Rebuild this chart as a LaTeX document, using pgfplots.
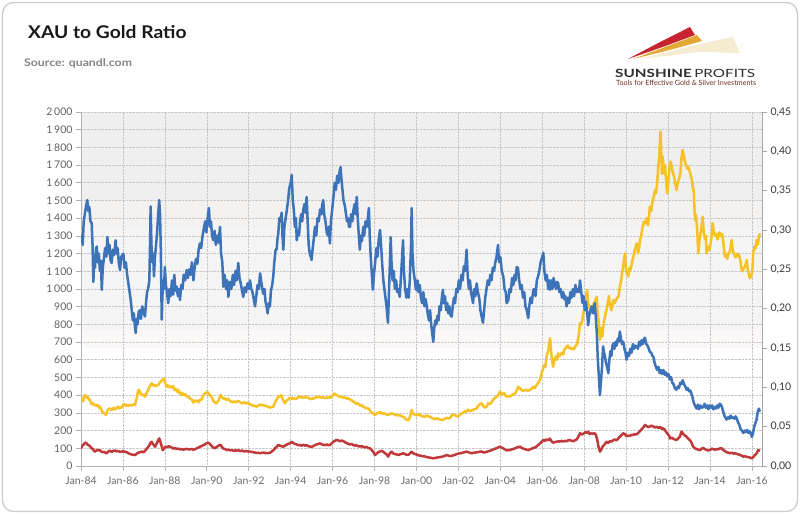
\documentclass[border=0pt]{standalone}
\usepackage{pgfplots}
\pgfplotsset{compat=1.18}
\usepackage{pgfplotstable}
\usepackage{fontspec}
\setmainfont{Lato}
\definecolor{cblue}{RGB}{61,115,185}
\definecolor{cgold}{RGB}{247,194,38}
\definecolor{cred}{RGB}{192,57,59}
\definecolor{frame}{RGB}{205,205,205}
\definecolor{band1}{RGB}{239,239,239}
\definecolor{band2}{RGB}{244,241,241}
\definecolor{band3}{RGB}{245,245,245}
\definecolor{band4}{RGB}{252,248,247}
\definecolor{logocream}{RGB}{245,236,210}
\definecolor{logoorange}{RGB}{228,168,52}
\definecolor{logored}{RGB}{200,36,48}
\definecolor{logobrown}{RGB}{110,45,35}

\pgfplotstableread{
x y
1984.00 370
1984.05 380
1984.10 365
1984.15 395
1984.20 401
1984.26 385
1984.32 390
1984.38 375
1984.43 373
1984.50 350
1984.56 355
1984.62 345
1984.67 345
1984.73 340
1984.80 345
1984.86 330
1984.90 335
1984.96 320
1985.02 305
1985.08 300
1985.14 295
1985.19 288
1985.25 310
1985.30 320
1985.38 326
1985.44 315
1985.50 320
1985.57 330
1985.63 320
1985.70 326
1985.76 335
1985.82 325
1985.88 330
1985.94 331
1986.00 345
1986.06 350
1986.12 340
1986.18 345
1986.25 340
1986.32 345
1986.40 342
1986.48 348
1986.58 345
1986.65 380
1986.70 410
1986.74 430
1986.78 429
1986.84 410
1986.90 400
1986.96 405
1987.05 392
1987.12 410
1987.20 430
1987.28 450
1987.33 460
1987.37 467
1987.42 455
1987.48 460
1987.55 450
1987.62 455
1987.69 458
1987.75 470
1987.82 480
1987.90 485
1987.96 495
1988.02 470
1988.09 448
1988.15 455
1988.22 445
1988.30 450
1988.36 440
1988.40 452
1988.46 430
1988.52 435
1988.58 420
1988.64 430
1988.70 410
1988.76 415
1988.80 401
1988.86 410
1988.92 400
1988.98 405
1989.04 392
1989.10 395
1989.16 385
1989.22 380
1989.29 375
1989.36 358
1989.42 370
1989.48 365
1989.55 370
1989.61 360
1989.67 373
1989.74 375
1989.80 390
1989.86 405
1989.92 410
1989.98 415
1990.02 420
1990.08 410
1990.14 400
1990.20 395
1990.23 392
1990.30 370
1990.37 360
1990.44 354
1990.50 360
1990.56 370
1990.61 385
1990.66 401
1990.72 390
1990.78 380
1990.84 385
1990.90 375
1990.95 373
1991.02 380
1991.08 370
1991.15 365
1991.22 360
1991.30 365
1991.36 360
1991.42 363
1991.50 368
1991.56 362
1991.62 358
1991.70 355
1991.78 360
1991.84 356
1991.90 354
1991.96 358
1992.04 350
1992.10 345
1992.18 342
1992.25 340
1992.32 338
1992.38 335
1992.44 340
1992.50 344
1992.56 348
1992.62 342
1992.69 345
1992.76 340
1992.84 338
1992.92 335
1993.00 330
1993.08 332
1993.17 335
1993.24 355
1993.30 370
1993.36 380
1993.42 395
1993.49 392
1993.55 400
1993.60 385
1993.66 365
1993.73 354
1993.80 370
1993.87 375
1993.93 382
1994.00 385
1994.06 380
1994.12 385
1994.20 378
1994.28 382
1994.36 388
1994.44 392
1994.52 385
1994.60 390
1994.68 386
1994.76 392
1994.84 385
1994.92 380
1995.00 378
1995.08 382
1995.16 384
1995.24 392
1995.32 388
1995.40 390
1995.48 386
1995.56 388
1995.64 384
1995.72 385
1995.80 388
1995.88 386
1995.96 392
1996.02 401
1996.08 410
1996.14 405
1996.20 400
1996.28 395
1996.36 390
1996.44 392
1996.52 385
1996.60 388
1996.68 380
1996.76 382
1996.83 375
1996.90 372
1996.97 365
1997.05 360
1997.12 350
1997.20 355
1997.28 345
1997.34 340
1997.40 345
1997.46 335
1997.52 332
1997.58 328
1997.62 326
1997.70 325
1997.76 318
1997.82 305
1997.88 300
1997.94 295
1998.02 288
1998.08 295
1998.14 300
1998.20 298
1998.26 305
1998.32 300
1998.38 295
1998.42 298
1998.50 295
1998.58 290
1998.64 288
1998.70 295
1998.76 293
1998.82 298
1998.88 295
1998.96 290
1999.05 288
1999.12 285
1999.20 288
1999.28 282
1999.36 278
1999.44 272
1999.52 262
1999.58 258
1999.64 262
1999.70 280
1999.74 305
1999.77 316
1999.82 300
1999.88 292
1999.94 290
2000.00 288
2000.06 286
2000.12 295
2000.17 288
2000.24 282
2000.32 280
2000.40 278
2000.48 286
2000.56 280
2000.64 279
2000.72 272
2000.80 268
2000.88 265
2000.96 270
2001.04 266
2001.12 263
2001.20 260
2001.28 262
2001.36 268
2001.44 272
2001.52 268
2001.60 272
2001.68 285
2001.76 290
2001.83 288
2001.90 280
2001.96 282
2002.04 285
2002.12 295
2002.20 300
2002.28 305
2002.34 312
2002.39 307
2002.46 318
2002.54 310
2002.62 312
2002.70 318
2002.78 320
2002.86 325
2002.94 340
2003.03 350
2003.10 355
2003.18 340
2003.26 330
2003.34 335
2003.42 355
2003.50 350
2003.58 360
2003.66 375
2003.74 385
2003.82 390
2003.90 400
2003.98 420
2004.04 410
2004.10 405
2004.18 412
2004.26 395
2004.30 392
2004.38 395
2004.46 392
2004.54 400
2004.62 405
2004.70 410
2004.78 425
2004.85 448
2004.90 440
2004.94 440
2005.02 428
2005.10 425
2005.17 429
2005.24 430
2005.30 425
2005.38 428
2005.46 435
2005.52 438
2005.57 448
2005.64 440
2005.72 455
2005.80 470
2005.89 486
2005.97 525
2006.04 550
2006.10 570
2006.15 560
2006.20 618
2006.28 650
2006.34 690
2006.37 721
2006.42 650
2006.46 600
2006.52 561
2006.58 600
2006.64 620
2006.70 600
2006.76 637
2006.82 620
2006.88 630
2006.94 640
2007.00 630
2007.06 660
2007.12 665
2007.16 674
2007.22 680
2007.28 665
2007.34 670
2007.40 660
2007.46 665
2007.52 660
2007.56 674
2007.62 680
2007.68 700
2007.74 740
2007.80 806
2007.86 800
2007.92 830
2007.98 880
2008.03 900
2008.08 950
2008.14 994
2008.19 920
2008.24 900
2008.30 880
2008.35 900
2008.40 880
2008.46 920
2008.52 930
2008.59 956
2008.64 860
2008.69 820
2008.75 712
2008.80 780
2008.86 730
2008.92 800
2008.99 844
2009.06 880
2009.12 920
2009.18 960
2009.24 900
2009.30 880
2009.39 938
2009.46 920
2009.52 940
2009.58 950
2009.64 960
2009.70 1013
2009.76 1050
2009.82 1100
2009.88 1150
2009.94 1201
2010.00 1100
2010.06 1080
2010.10 1070
2010.16 1120
2010.22 1110
2010.28 1154
2010.34 1180
2010.40 1220
2010.46 1240
2010.50 1258
2010.56 1200
2010.62 1230
2010.66 1277
2010.72 1300
2010.78 1350
2010.84 1380
2010.90 1370
2010.98 1400
2011.04 1360
2011.10 1420
2011.13 1465
2011.20 1440
2011.26 1500
2011.32 1520
2011.37 1559
2011.42 1540
2011.48 1600
2011.53 1691
2011.58 1750
2011.62 1850
2011.64 1889
2011.67 1800
2011.70 1650
2011.74 1750
2011.78 1700
2011.80 1654
2011.85 1700
2011.90 1620
2011.96 1541
2012.02 1620
2012.08 1700
2012.12 1720
2012.17 1691
2012.22 1660
2012.28 1640
2012.34 1600
2012.40 1559
2012.46 1600
2012.52 1620
2012.58 1650
2012.64 1740
2012.69 1785
2012.74 1760
2012.80 1720
2012.86 1700
2012.92 1680
2012.96 1691
2013.02 1670
2013.08 1640
2013.13 1620
2013.17 1578
2013.22 1560
2013.26 1450
2013.28 1390
2013.33 1420
2013.38 1350
2013.44 1201
2013.50 1280
2013.56 1320
2013.62 1380
2013.65 1408
2013.70 1320
2013.76 1280
2013.80 1300
2013.84 1201
2013.90 1240
2013.96 1220
2014.02 1250
2014.08 1300
2014.12 1371
2014.18 1330
2014.24 1300
2014.30 1310
2014.36 1280
2014.39 1295
2014.45 1320
2014.52 1300
2014.58 1310
2014.64 1260
2014.71 1183
2014.76 1200
2014.82 1170
2014.88 1200
2014.94 1210
2015.00 1250
2015.03 1277
2015.08 1220
2015.14 1200
2015.20 1180
2015.27 1183
2015.32 1200
2015.38 1190
2015.44 1170
2015.51 1107
2015.56 1100
2015.62 1120
2015.68 1130
2015.75 1164
2015.80 1110
2015.86 1080
2015.90 1060
2015.96 1070
2016.02 1100
2016.06 1201
2016.12 1240
2016.17 1230
2016.22 1277
2016.28 1250
2016.33 1290
2016.38 1315
}\goldtable

\pgfplotstableread{
x y
1984.00 100
1984.06 115
1984.12 120
1984.18 130
1984.24 132
1984.30 122
1984.36 118
1984.42 112
1984.51 100
1984.57 95
1984.62 85
1984.67 81
1984.74 88
1984.80 92
1984.86 86
1984.90 90
1984.96 82
1985.04 78
1985.10 80
1985.16 75
1985.22 72
1985.30 82
1985.38 86
1985.46 80
1985.54 85
1985.62 88
1985.70 82
1985.78 85
1985.86 80
1985.94 81
1986.02 84
1986.10 80
1986.18 78
1986.26 72
1986.34 68
1986.42 65
1986.50 63
1986.58 62
1986.66 70
1986.74 75
1986.82 78
1986.90 81
1986.98 78
1987.05 85
1987.12 95
1987.21 109
1987.27 120
1987.32 132
1987.37 137
1987.42 125
1987.48 118
1987.53 109
1987.60 125
1987.66 140
1987.73 156
1987.78 140
1987.84 115
1987.90 90
1987.96 100
1988.04 110
1988.10 105
1988.18 112
1988.24 109
1988.32 105
1988.40 98
1988.48 102
1988.56 96
1988.64 98
1988.72 94
1988.80 96
1988.88 92
1988.96 95
1989.04 97
1989.12 94
1989.20 94
1989.28 96
1989.36 92
1989.44 95
1989.52 100
1989.60 104
1989.67 109
1989.75 112
1989.83 118
1989.91 122
1989.98 128
1990.07 132
1990.14 125
1990.22 115
1990.30 105
1990.39 100
1990.46 108
1990.54 112
1990.60 118
1990.66 119
1990.72 108
1990.80 98
1990.88 95
1990.95 90
1991.04 92
1991.12 88
1991.20 90
1991.28 86
1991.36 88
1991.42 86
1991.50 90
1991.58 84
1991.66 88
1991.74 84
1991.82 82
1991.90 84
1992.00 82
1992.06 81
1992.14 80
1992.22 78
1992.30 76
1992.38 74
1992.46 75
1992.54 72
1992.62 74
1992.70 76
1992.78 74
1992.86 72
1992.94 73
1993.01 75
1993.10 82
1993.18 90
1993.26 100
1993.34 110
1993.41 119
1993.48 115
1993.56 112
1993.65 109
1993.72 115
1993.80 120
1993.88 125
1993.97 128
1994.05 137
1994.12 130
1994.20 125
1994.28 122
1994.36 118
1994.44 119
1994.52 115
1994.60 120
1994.68 115
1994.76 118
1994.84 112
1994.92 110
1995.00 109
1995.08 112
1995.16 118
1995.24 122
1995.32 125
1995.40 128
1995.48 122
1995.56 120
1995.64 118
1995.72 122
1995.80 118
1995.87 119
1995.94 125
1996.02 135
1996.10 142
1996.19 147
1996.26 145
1996.34 140
1996.42 143
1996.51 141
1996.58 135
1996.66 130
1996.74 126
1996.82 122
1996.90 124
1996.99 119
1997.06 115
1997.14 118
1997.22 112
1997.30 110
1997.38 112
1997.46 109
1997.54 105
1997.62 108
1997.70 102
1997.78 100
1997.86 90
1997.94 80
1998.02 62
1998.10 70
1998.18 78
1998.26 82
1998.34 86
1998.42 80
1998.50 72
1998.58 65
1998.65 53
1998.72 70
1998.81 81
1998.88 72
1998.96 68
1999.05 66
1999.13 62
1999.20 65
1999.28 68
1999.37 72
1999.44 68
1999.52 64
1999.60 62
1999.68 70
1999.74 78
1999.77 81
1999.84 72
1999.92 68
2000.00 65
2000.10 60
2000.20 58
2000.30 55
2000.40 54
2000.50 50
2000.60 48
2000.70 46
2000.80 43
2000.90 46
2001.00 48
2001.10 50
2001.20 52
2001.30 55
2001.44 62
2001.54 58
2001.62 56
2001.70 58
2001.80 62
2001.90 66
2002.00 70
2002.10 72
2002.20 75
2002.30 78
2002.39 81
2002.48 78
2002.56 74
2002.64 72
2002.72 75
2002.80 76
2002.90 78
2003.03 81
2003.12 82
2003.20 76
2003.30 78
2003.40 82
2003.50 86
2003.60 90
2003.70 96
2003.80 100
2003.90 105
2003.98 109
2004.06 104
2004.14 100
2004.22 94
2004.30 88
2004.38 90
2004.46 90
2004.54 94
2004.62 96
2004.70 100
2004.78 104
2004.86 108
2004.94 109
2005.02 102
2005.10 98
2005.18 95
2005.26 92
2005.33 90
2005.42 94
2005.50 98
2005.58 102
2005.66 105
2005.74 112
2005.82 120
2005.90 128
2006.00 140
2006.05 147
2006.12 142
2006.20 150
2006.28 145
2006.36 155
2006.44 140
2006.52 132
2006.60 135
2006.68 137
2006.76 140
2006.84 138
2006.92 142
2007.00 138
2007.08 142
2007.16 140
2007.24 145
2007.32 147
2007.40 142
2007.48 140
2007.56 145
2007.64 150
2007.72 165
2007.80 185
2007.88 178
2007.96 182
2008.04 190
2008.12 188
2008.19 194
2008.26 180
2008.34 185
2008.42 182
2008.50 185
2008.56 175
2008.62 150
2008.68 110
2008.75 81
2008.80 90
2008.88 110
2008.96 120
2009.07 137
2009.14 130
2009.22 140
2009.30 138
2009.38 145
2009.46 150
2009.54 145
2009.62 155
2009.70 165
2009.78 175
2009.86 185
2009.94 180
2010.02 168
2010.10 172
2010.18 170
2010.26 176
2010.33 175
2010.40 180
2010.48 178
2010.56 185
2010.64 195
2010.72 205
2010.80 215
2010.90 232
2010.98 225
2011.06 220
2011.14 224
2011.22 228
2011.30 222
2011.38 218
2011.46 222
2011.54 215
2011.62 220
2011.70 210
2011.77 213
2011.84 205
2011.92 190
2012.00 180
2012.05 170
2012.09 156
2012.16 160
2012.24 155
2012.32 150
2012.40 147
2012.48 155
2012.56 165
2012.64 194
2012.70 185
2012.76 175
2012.84 170
2012.92 160
2013.00 150
2013.08 140
2013.14 125
2013.20 109
2013.28 100
2013.36 96
2013.44 92
2013.52 90
2013.60 98
2013.68 102
2013.76 95
2013.84 90
2013.92 88
2014.00 90
2014.08 98
2014.16 95
2014.24 92
2014.32 96
2014.40 94
2014.48 100
2014.55 100
2014.62 92
2014.70 85
2014.78 78
2014.86 76
2014.95 72
2015.04 75
2015.12 70
2015.20 72
2015.28 68
2015.36 65
2015.44 62
2015.52 58
2015.58 53
2015.66 55
2015.74 52
2015.82 50
2015.90 48
2015.98 43
2016.06 50
2016.12 60
2016.18 65
2016.24 75
2016.30 90
2016.38 85
}\xautable

\pgfplotstableread{
x y
1984.00 0.284
1984.04 0.293
1984.08 0.281
1984.13 0.311
1984.18 0.320
1984.24 0.330
1984.30 0.338
1984.35 0.324
1984.40 0.329
1984.45 0.311
1984.51 0.309
1984.55 0.281
1984.59 0.234
1984.63 0.266
1984.67 0.252
1984.71 0.275
1984.75 0.279
1984.80 0.259
1984.85 0.270
1984.90 0.248
1984.95 0.261
1984.99 0.224
1985.04 0.252
1985.10 0.266
1985.15 0.277
1985.21 0.266
1985.26 0.291
1985.31 0.270
1985.36 0.281
1985.41 0.261
1985.46 0.258
1985.52 0.275
1985.58 0.268
1985.65 0.287
1985.70 0.270
1985.75 0.277
1985.80 0.259
1985.86 0.249
1985.92 0.266
1986.02 0.270
1986.08 0.252
1986.14 0.259
1986.20 0.243
1986.26 0.232
1986.32 0.221
1986.38 0.209
1986.42 0.198
1986.47 0.185
1986.52 0.194
1986.57 0.178
1986.61 0.169
1986.65 0.187
1986.70 0.180
1986.75 0.196
1986.81 0.198
1986.86 0.187
1986.92 0.203
1986.98 0.196
1987.05 0.190
1987.10 0.207
1987.15 0.221
1987.20 0.225
1987.26 0.236
1987.30 0.293
1987.32 0.330
1987.36 0.281
1987.40 0.259
1987.44 0.270
1987.48 0.241
1987.53 0.266
1987.58 0.281
1987.63 0.297
1987.68 0.320
1987.73 0.338
1987.77 0.320
1987.81 0.270
1987.85 0.186
1987.88 0.214
1987.92 0.236
1987.96 0.225
1988.00 0.253
1988.05 0.230
1988.10 0.221
1988.16 0.207
1988.22 0.225
1988.28 0.216
1988.34 0.236
1988.40 0.218
1988.45 0.243
1988.50 0.223
1988.56 0.228
1988.62 0.216
1988.67 0.225
1988.72 0.211
1988.78 0.230
1988.84 0.225
1988.90 0.243
1988.97 0.236
1989.04 0.249
1989.10 0.239
1989.16 0.250
1989.22 0.243
1989.29 0.259
1989.36 0.236
1989.42 0.252
1989.48 0.263
1989.55 0.257
1989.61 0.275
1989.67 0.283
1989.73 0.277
1989.80 0.293
1989.86 0.302
1989.92 0.311
1989.98 0.297
1990.04 0.315
1990.10 0.328
1990.15 0.304
1990.20 0.311
1990.25 0.293
1990.31 0.287
1990.37 0.299
1990.43 0.281
1990.50 0.293
1990.56 0.284
1990.63 0.304
1990.68 0.270
1990.74 0.259
1990.79 0.228
1990.85 0.243
1990.92 0.225
1990.97 0.236
1991.03 0.215
1991.10 0.234
1991.17 0.225
1991.24 0.243
1991.30 0.230
1991.37 0.248
1991.43 0.236
1991.50 0.258
1991.56 0.239
1991.62 0.232
1991.68 0.223
1991.74 0.215
1991.80 0.227
1991.87 0.221
1991.94 0.232
1992.00 0.225
1992.06 0.236
1992.12 0.225
1992.18 0.221
1992.24 0.212
1992.30 0.203
1992.36 0.216
1992.42 0.230
1992.48 0.225
1992.54 0.245
1992.60 0.234
1992.65 0.225
1992.69 0.219
1992.75 0.225
1992.80 0.209
1992.85 0.203
1992.90 0.194
1992.96 0.207
1993.01 0.203
1993.06 0.223
1993.12 0.230
1993.17 0.241
1993.22 0.259
1993.28 0.275
1993.33 0.275
1993.37 0.288
1993.41 0.296
1993.46 0.315
1993.50 0.311
1993.57 0.322
1993.61 0.293
1993.65 0.275
1993.70 0.304
1993.76 0.315
1993.82 0.326
1993.88 0.338
1993.93 0.353
1994.00 0.360
1994.05 0.370
1994.10 0.338
1994.15 0.326
1994.20 0.304
1994.25 0.315
1994.29 0.287
1994.34 0.299
1994.40 0.293
1994.45 0.311
1994.50 0.320
1994.55 0.311
1994.60 0.326
1994.66 0.333
1994.71 0.322
1994.76 0.342
1994.81 0.311
1994.86 0.281
1994.91 0.270
1994.96 0.266
1995.00 0.262
1995.05 0.277
1995.10 0.288
1995.16 0.304
1995.22 0.293
1995.28 0.315
1995.34 0.311
1995.40 0.326
1995.46 0.320
1995.50 0.331
1995.55 0.338
1995.60 0.320
1995.66 0.311
1995.72 0.297
1995.78 0.293
1995.82 0.304
1995.87 0.283
1995.92 0.311
1995.98 0.326
1996.04 0.342
1996.10 0.360
1996.16 0.351
1996.22 0.369
1996.28 0.360
1996.33 0.374
1996.38 0.380
1996.42 0.365
1996.47 0.351
1996.52 0.338
1996.59 0.330
1996.64 0.320
1996.69 0.311
1996.74 0.315
1996.78 0.304
1996.83 0.304
1996.88 0.320
1996.94 0.311
1997.00 0.326
1997.05 0.333
1997.10 0.320
1997.15 0.342
1997.20 0.315
1997.25 0.293
1997.30 0.275
1997.35 0.293
1997.40 0.286
1997.46 0.304
1997.51 0.293
1997.57 0.311
1997.63 0.304
1997.68 0.315
1997.73 0.328
1997.77 0.293
1997.81 0.270
1997.86 0.248
1997.92 0.224
1997.97 0.243
1998.03 0.259
1998.09 0.277
1998.14 0.266
1998.20 0.288
1998.26 0.300
1998.31 0.281
1998.36 0.259
1998.42 0.236
1998.47 0.225
1998.52 0.214
1998.57 0.203
1998.64 0.182
1998.68 0.214
1998.72 0.248
1998.77 0.291
1998.81 0.259
1998.86 0.236
1998.92 0.248
1998.97 0.225
1999.03 0.236
1999.08 0.221
1999.14 0.225
1999.20 0.215
1999.25 0.236
1999.30 0.259
1999.36 0.287
1999.40 0.248
1999.46 0.225
1999.52 0.214
1999.58 0.225
1999.63 0.214
1999.68 0.236
1999.74 0.281
1999.77 0.328
1999.81 0.270
1999.86 0.248
1999.92 0.236
1999.97 0.225
2000.00 0.224
2000.05 0.236
2000.10 0.221
2000.16 0.230
2000.21 0.214
2000.27 0.207
2000.33 0.221
2000.38 0.203
2000.44 0.212
2000.49 0.203
2000.55 0.191
2000.60 0.185
2000.65 0.198
2000.70 0.180
2000.75 0.169
2000.80 0.158
2000.85 0.176
2000.90 0.185
2000.95 0.180
2001.00 0.191
2001.05 0.185
2001.10 0.203
2001.16 0.198
2001.21 0.214
2001.26 0.224
2001.31 0.207
2001.36 0.216
2001.42 0.198
2001.47 0.207
2001.52 0.194
2001.57 0.203
2001.63 0.191
2001.68 0.190
2001.73 0.203
2001.79 0.214
2001.84 0.207
2001.90 0.225
2001.96 0.221
2002.02 0.236
2002.08 0.225
2002.14 0.243
2002.20 0.236
2002.26 0.254
2002.32 0.248
2002.39 0.275
2002.44 0.243
2002.50 0.225
2002.55 0.236
2002.60 0.221
2002.65 0.214
2002.70 0.207
2002.75 0.225
2002.81 0.216
2002.87 0.232
2002.93 0.221
2003.00 0.212
2003.05 0.198
2003.10 0.191
2003.17 0.182
2003.22 0.196
2003.28 0.214
2003.34 0.225
2003.40 0.236
2003.46 0.230
2003.52 0.243
2003.58 0.236
2003.64 0.252
2003.70 0.248
2003.76 0.259
2003.82 0.266
2003.89 0.281
2003.94 0.259
2004.00 0.266
2004.07 0.248
2004.14 0.241
2004.20 0.225
2004.26 0.221
2004.30 0.207
2004.38 0.211
2004.44 0.225
2004.50 0.221
2004.56 0.239
2004.62 0.230
2004.68 0.243
2004.73 0.236
2004.78 0.253
2004.84 0.252
2004.90 0.236
2004.96 0.225
2005.02 0.230
2005.08 0.214
2005.14 0.221
2005.20 0.203
2005.26 0.198
2005.33 0.188
2005.38 0.203
2005.44 0.214
2005.50 0.207
2005.57 0.224
2005.62 0.225
2005.68 0.216
2005.74 0.236
2005.80 0.241
2005.86 0.248
2005.92 0.259
2006.00 0.266
2006.05 0.271
2006.10 0.248
2006.16 0.236
2006.22 0.243
2006.28 0.225
2006.33 0.236
2006.37 0.224
2006.42 0.236
2006.48 0.225
2006.54 0.239
2006.60 0.230
2006.66 0.225
2006.71 0.234
2006.76 0.232
2006.82 0.221
2006.88 0.225
2006.94 0.214
2007.00 0.221
2007.05 0.212
2007.10 0.216
2007.16 0.203
2007.22 0.214
2007.28 0.207
2007.34 0.221
2007.40 0.214
2007.46 0.225
2007.52 0.216
2007.58 0.230
2007.64 0.221
2007.70 0.225
2007.75 0.221
2007.80 0.236
2007.86 0.221
2007.92 0.207
2007.97 0.216
2008.03 0.198
2008.08 0.209
2008.13 0.198
2008.19 0.179
2008.24 0.191
2008.30 0.198
2008.36 0.203
2008.42 0.194
2008.50 0.207
2008.55 0.191
2008.60 0.169
2008.65 0.135
2008.70 0.113
2008.75 0.090
2008.80 0.108
2008.85 0.126
2008.90 0.152
2008.95 0.144
2008.99 0.139
2009.04 0.131
2009.09 0.126
2009.15 0.118
2009.20 0.135
2009.25 0.146
2009.30 0.140
2009.35 0.153
2009.39 0.156
2009.44 0.149
2009.50 0.158
2009.55 0.153
2009.60 0.162
2009.65 0.158
2009.70 0.171
2009.75 0.162
2009.80 0.155
2009.86 0.158
2009.92 0.149
2009.97 0.144
2010.02 0.135
2010.08 0.144
2010.14 0.140
2010.20 0.149
2010.26 0.144
2010.32 0.155
2010.38 0.149
2010.44 0.153
2010.50 0.152
2010.56 0.149
2010.62 0.158
2010.68 0.153
2010.74 0.160
2010.80 0.155
2010.86 0.162
2010.90 0.163
2010.96 0.155
2011.02 0.153
2011.08 0.149
2011.13 0.145
2011.20 0.144
2011.25 0.140
2011.30 0.139
2011.36 0.131
2011.42 0.126
2011.48 0.122
2011.54 0.126
2011.60 0.118
2011.66 0.122
2011.72 0.117
2011.78 0.122
2011.84 0.116
2011.90 0.119
2011.96 0.114
2012.02 0.117
2012.08 0.110
2012.14 0.113
2012.20 0.106
2012.26 0.104
2012.32 0.099
2012.40 0.097
2012.46 0.101
2012.52 0.099
2012.58 0.106
2012.64 0.104
2012.70 0.109
2012.76 0.104
2012.82 0.101
2012.88 0.097
2012.94 0.099
2013.00 0.095
2013.06 0.096
2013.10 0.093
2013.16 0.088
2013.22 0.081
2013.28 0.077
2013.36 0.073
2013.42 0.078
2013.48 0.072
2013.54 0.077
2013.60 0.074
2013.68 0.075
2013.74 0.079
2013.80 0.074
2013.86 0.077
2013.92 0.072
2013.98 0.077
2014.04 0.074
2014.10 0.077
2014.16 0.072
2014.22 0.075
2014.28 0.073
2014.34 0.077
2014.40 0.074
2014.46 0.079
2014.52 0.078
2014.58 0.074
2014.64 0.068
2014.70 0.063
2014.79 0.059
2014.86 0.062
2014.92 0.060
2014.98 0.064
2015.04 0.061
2015.10 0.062
2015.16 0.060
2015.22 0.063
2015.27 0.061
2015.33 0.056
2015.40 0.052
2015.46 0.047
2015.52 0.045
2015.59 0.042
2015.65 0.045
2015.71 0.043
2015.77 0.046
2015.83 0.042
2015.90 0.044
2015.95 0.041
2016.00 0.037
2016.06 0.043
2016.11 0.050
2016.16 0.054
2016.22 0.059
2016.27 0.068
2016.33 0.073
2016.38 0.069
}\ratiotable

\begin{document}
\begin{tikzpicture}
\useasboundingbox (0pt,0pt) rectangle (800pt,514pt);
\fill[white] (0pt,0pt) rectangle (800pt,514pt);
\draw[draw=frame, line width=1.3pt, rounded corners=11pt] (2.5pt,2.5pt) rectangle (797.5pt,511.5pt);
% title
\node[anchor=base west, inner sep=0pt, text=black!90] at (28pt,475pt) {\scalebox{1.1}[1.0]{\fontsize{17.5}{20}\selectfont\bfseries XAU to Gold Ratio}};
\node[anchor=base west, inner sep=0pt, text=black!48] at (24pt,447pt) {\scalebox{1.17}[1.0]{\fontsize{10.5}{12}\selectfont\bfseries Source: quandl.com}};
% logo
\fill[logocream] (640pt,455pt) .. controls (690pt,468pt) .. (733pt,477pt) -- (740pt,461pt) -- (700pt,462pt) .. controls (670pt,459pt) .. cycle;
\fill[logoorange] (633pt,455pt) .. controls (665pt,467pt) .. (697pt,479pt) -- (702pt,473pt) .. controls (670pt,464pt) .. cycle;
\fill[logored] (628pt,455pt) .. controls (660pt,472pt) .. (690pt,487pt) -- (695pt,479pt) .. controls (660pt,466pt) .. cycle;
\node[anchor=base west, inner sep=0pt, text=black!82] at (615pt,436.7pt) {\resizebox{140pt}{8.3pt}{\bfseries SUNSHINE\,\mdseries PROFITS}};
\node[anchor=base west, inner sep=0pt, text=logobrown] at (616pt,428pt) {\resizebox{140pt}{!}{\fontsize{6.5}{7}\selectfont Tools for Effective Gold \& Silver Investments}};

% background bands
\begin{axis}[
  at={(81pt,48pt)}, anchor=south west,
  width=681pt, height=354pt, scale only axis,
  xmin=1984, xmax=2016.48, ymin=0, ymax=2000,
  hide axis,
]
\fill[band1] (axis cs:1984,1500) rectangle (axis cs:2016.48,2000);
\fill[band2] (axis cs:1984,1345) rectangle (axis cs:2016.48,1500);
\fill[band3] (axis cs:1984,770) rectangle (axis cs:2016.48,1345);
\fill[band4] (axis cs:1984,667) rectangle (axis cs:2016.48,770);
\end{axis}

\begin{axis}[
  at={(81pt,48pt)}, anchor=south west,
  width=681pt, height=354pt, scale only axis,
  xmin=1984, xmax=2016.48, ymin=0, ymax=2000,
  axis x line*=bottom, axis y line*=left,
  axis line style={draw=black!30, line width=0.8pt},
  xtick={1984,1986,...,2016},
  xticklabels={Jan-84,Jan-86,Jan-88,Jan-90,Jan-92,Jan-94,Jan-96,Jan-98,Jan-00,Jan-02,Jan-04,Jan-06,Jan-08,Jan-10,Jan-12,Jan-14,Jan-16},
  ytick={0,100,...,2000},
  tick align=outside, major tick length=5pt,
  tick style={draw=black!30, line width=0.7pt},
  xmajorgrids, ymajorgrids,
  grid style={densely dotted, draw=black!22, line width=0.6pt},
  /pgf/number format/assume math mode=true,
  /pgf/number format/1000 sep={\,},
  yticklabel style={font=\fontsize{10.5}{12}\selectfont, text=black!62},
  xticklabel style={font=\fontsize{10.5}{12}\selectfont, text=black!58, yshift=-2pt},
]
\addplot[cgold, line width=2.5pt, line join=round, no markers] table[x=x,y=y] {\goldtable};
\addplot[cred, line width=2.5pt, line join=round, no markers] table[x=x,y=y] {\xautable};
\end{axis}

\begin{axis}[
  at={(81pt,48pt)}, anchor=south west,
  width=681pt, height=354pt, scale only axis,
  xmin=1984, xmax=2016.48, ymin=0, ymax=0.45,
  axis x line=none, axis y line*=right,
  axis line style={draw=black!35, line width=0.8pt},
  ytick={0,0.05,0.1,0.15,0.2,0.25,0.3,0.35,0.4,0.45},
  tick align=outside, major tick length=5pt,
  tick style={draw=black!35, line width=0.7pt},
  /pgf/number format/assume math mode=true,
  yticklabel style={font=\fontsize{10.5}{12}\selectfont, text=black!78, /pgf/number format/.cd, fixed, fixed zerofill, precision=2, use comma},
]
\addplot[cblue, line width=2.5pt, line join=round, no markers] table[x=x,y=y] {\ratiotable};
\end{axis}
\end{tikzpicture}
\end{document}
